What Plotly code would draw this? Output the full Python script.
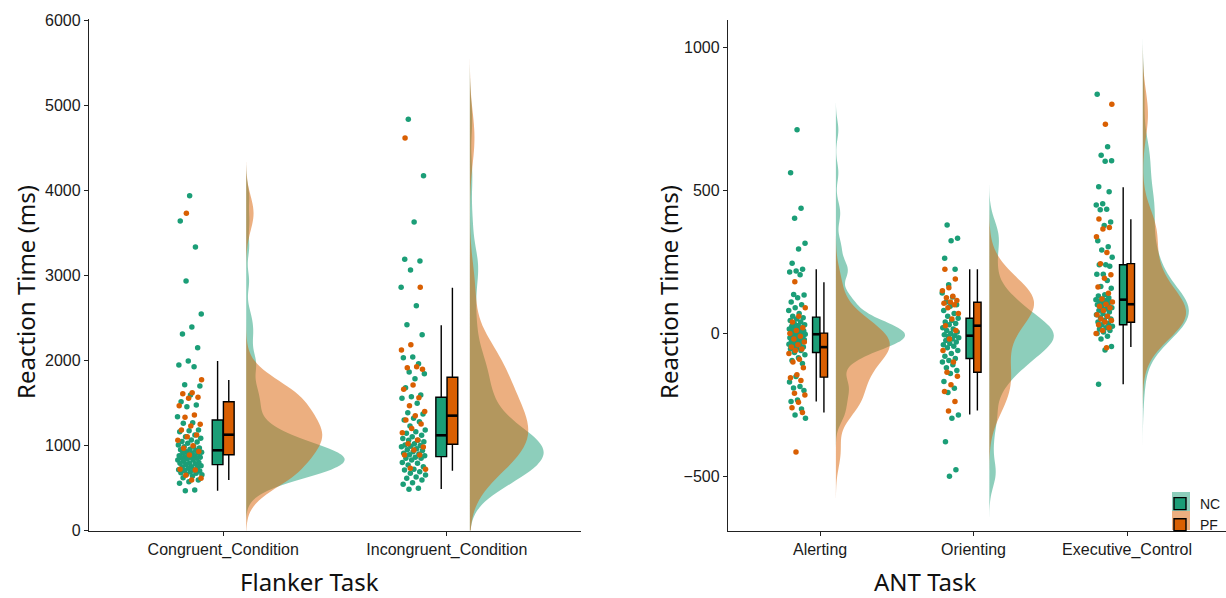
import numpy as np
import plotly.graph_objects as go

# ---------------- data ----------------
flanker_conditions = ["Congruent_Condition", "Incongruent_Condition"]
ant_conditions = ["Alerting", "Orienting", "Executive_Control"]

flanker_nc_congruent = [3935, 3638, 3332, 2932, 2545, 2392, 2310, 2149, 1993, 1945, 1925, 1714, 1699,
                        1593, 1514, 1475, 1455, 1338, 1267, 1260, 1181, 1173, 1160, 1122, 1102, 1083,
                        1063, 1045, 1040, 1025, 1005, 990, 985, 970, 955, 950, 943, 926, 920, 910, 910,
                        907, 895, 880, 880, 868, 860, 860, 855, 848, 840, 830, 829, 815, 800, 790, 790,
                        785, 775, 760, 750, 745, 740, 731, 715, 710, 705, 700, 691, 680, 672, 660, 655,
                        640, 620, 594, 574, 555, 476, 468]
flanker_pf_congruent = [3728, 1773, 1620, 1608, 1565, 1553, 1467, 1358, 1331, 1248, 1228, 1180, 1122,
                        1102, 1060, 997, 966, 930, 887, 719, 711, 650, 614, 594]
flanker_nc_incongruent = [4833, 4170, 3626, 3187, 3168, 3062, 2858, 2642, 2419, 2301, 2039, 2030, 1961,
                          1863, 1843, 1784, 1679, 1593, 1573, 1554, 1495, 1385, 1369, 1319, 1300, 1279,
                          1228, 1181, 1161, 1142, 1120, 1102, 1080, 1060, 1060, 1044, 1020, 1005, 1000,
                          990, 985, 960, 950, 940, 926, 907, 900, 890, 880, 860, 850, 848, 829, 800, 790,
                          770, 750, 720, 711, 690, 672, 652, 630, 614, 594, 560, 543, 496, 484]
flanker_pf_incongruent = [4613, 2858, 2184, 2121, 1925, 1913, 1895, 1710, 1660, 1561, 1467, 1400, 1349,
                          1300, 1252, 1200, 1150, 1063, 1020, 980, 946, 887, 887, 731, 719]

ant_nc_alerting = [712, 562, 438, 403, 315, 295, 245, 224, 218, 215, 205, 136, 134, 125, 110, 100, 90,
                   80, 70, 60, 55, 50, 45, 40, 35, 30, 28, 25, 20, 18, 15, 12, 10, 8, 5, 2, 0, -2, -3,
                   -5, -8, -10, -12, -15, -18, -20, -22, -25, -28, -30, -35, -38, -40, -45, -48, -50,
                   -55, -60, -67, -75, -85, -95, -105, -151, -170, -186, -191, -200, -233, -238, -264,
                   -285, -297]
ant_pf_alerting = [181, 90, 60, 40, 20, 10, 0, -10, -20, -30, -40, -48, -55, -60, -70, -90, -100, -120,
                   -145, -155, -165, -209, -215, -241, -260, -277, -415]
ant_nc_orienting = [379, 333, 324, 263, 224, 170, 141, 127, 110, 100, 95, 80, 70, 60, 53, 45, 40, 35,
                    30, 20, 15, 10, 5, 0, -5, -8, -10, -15, -20, -25, -30, -35, -40, -45, -50, -60, -70,
                    -80, -88, -95, -100, -110, -120, -130, -140, -168, -192, -207, -285, -297, -379,
                    -477, -500]
ant_pf_orienting = [224, 190, 160, 149, 130, 125, 115, 110, 105, 100, 90, 70, 50, 27, 10, -20, -60,
                    -100, -136, -150, -180, -203, -238, -271]
ant_nc_executive = [836, 653, 623, 604, 602, 513, 495, 453, 449, 434, 432, 390, 377, 324, 303, 292, 266,
                    240, 240, 235, 207, 207, 185, 164, 158, 135, 131, 125, 120, 118, 115, 112, 110, 105,
                    100, 98, 95, 90, 85, 80, 75, 70, 65, 60, 55, 50, 45, 40, 35, 30, 25, 20, 15, 10, 5,
                    0, -10, -20, -46, -58, -178]
ant_pf_executive = [801, 731, 400, 370, 365, 338, 283, 244, 205, 193, 162, 140, 120, 110, 102, 95, 90,
                    80, 65, 60, 50, 45, 40, 30, 20, 10, 0, -50]

# box statistics (per condition)
flanker_nc_q1 = [774, 868]
flanker_nc_median = [943, 1119]
flanker_nc_q3 = [1299, 1566]
flanker_nc_lower = [468, 488]
flanker_nc_upper = [1992, 2412]
flanker_pf_q1 = [891, 1013]
flanker_pf_median = [1126, 1350]
flanker_pf_q3 = [1514, 1801]
flanker_pf_lower = [594, 703]
flanker_pf_upper = [1769, 2854]

ant_nc_q1 = [-67, -88, 30]
ant_nc_median = [-3, -8, 118]
ant_nc_q3 = [57, 53, 240]
ant_nc_lower = [-238, -284, -178]
ant_nc_upper = [224, 224, 511]
ant_pf_q1 = [-153, -136, 39]
ant_pf_median = [-48, 27, 102]
ant_pf_q3 = [1, 109, 244]
ant_pf_lower = [-277, -270, -48]
ant_pf_upper = [179, 224, 399]

# ---------------- styling ----------------
NC_COLOR = "#1B9E77"
PF_COLOR = "#D95F02"
NC_FILL = "rgba(27,158,119,0.5)"
PF_FILL = "rgba(217,95,2,0.5)"
W, H = 1226, 598
TICK_FONT = dict(family="Liberation Sans, Arial, sans-serif", size=16, color="#1a1a1a")
TITLE_FONT_FAMILY = "Noto Sans, Open Sans, sans-serif"

VIOLIN_SHIFT = 0.103
POINT_SHIFT = -0.15
POINT_SPREAD = 0.055
BOX_SHIFT = 0.025
BOX_WIDTH = 0.048


def nrd0(v):
    v = np.asarray(v, float)
    sd = v.std(ddof=1)
    q75, q25 = np.percentile(v, [75, 25])
    return 0.9 * min(sd, (q75 - q25) / 1.34) * len(v) ** -0.2


def jitter(n, start):
    k = np.arange(n) + start
    u = (0.5 + k * 0.6180339887) % 1.0
    return 2 * u - 1


panels = [
    dict(xa="x", ya="y", cats=flanker_conditions,
         nc=[flanker_nc_congruent, flanker_nc_incongruent],
         pf=[flanker_pf_congruent, flanker_pf_incongruent],
         nc_box=(flanker_nc_q1, flanker_nc_median, flanker_nc_q3, flanker_nc_lower, flanker_nc_upper),
         pf_box=(flanker_pf_q1, flanker_pf_median, flanker_pf_q3, flanker_pf_lower, flanker_pf_upper),
         nc_w=[0.44, 0.33], pf_w=[0.34, 0.26], legend=False),
    dict(xa="x2", ya="y2", cats=ant_conditions,
         nc=[ant_nc_alerting, ant_nc_orienting, ant_nc_executive],
         pf=[ant_pf_alerting, ant_pf_orienting, ant_pf_executive],
         nc_box=(ant_nc_q1, ant_nc_median, ant_nc_q3, ant_nc_lower, ant_nc_upper),
         pf_box=(ant_pf_q1, ant_pf_median, ant_pf_q3, ant_pf_lower, ant_pf_upper),
         nc_w=[0.45, 0.42, 0.30], pf_w=[0.35, 0.29, 0.28], legend=True),
]

fig = go.Figure()

# violins
for p in panels:
    for key, fill, wkey in (("nc", NC_FILL, "nc_w"), ("pf", PF_FILL, "pf_w")):
        for i, vals in enumerate(p[key]):
            v = np.asarray(vals, float)
            bw = nrd0(v)
            pos = i + 1 + VIOLIN_SHIFT
            fig.add_trace(go.Violin(
                x=np.full(len(v), pos), y=v, xaxis=p["xa"], yaxis=p["ya"],
                side="positive", width=2 * p[wkey][i], bandwidth=bw,
                spanmode="manual", span=[v.min() - 3 * bw, v.max() + 3 * bw],
                fillcolor=fill, line=dict(width=0, color=fill), points=False,
                scalemode="width", scalegroup=f"{p['xa']}{key}{i}",
                showlegend=False, hoverinfo="skip"))

# jittered points
for p in panels:
    for key, color, start in (("nc", NC_COLOR, 0), ("pf", PF_COLOR, 37)):
        xs, ys = [], []
        for i, vals in enumerate(p[key]):
            v = np.asarray(vals, float)
            xs.extend(i + 1 + POINT_SHIFT + POINT_SPREAD * jitter(len(v), start + 11 * i))
            ys.extend(v)
        fig.add_trace(go.Scatter(x=xs, y=ys, mode="markers", xaxis=p["xa"], yaxis=p["ya"],
                                 marker=dict(size=5.5, color=color), showlegend=False,
                                 hoverinfo="skip"))

# boxes
for p in panels:
    n = len(p["cats"])
    for key, color, shift, name in (("nc", NC_COLOR, -BOX_SHIFT, "NC"), ("pf", PF_COLOR, BOX_SHIFT, "PF")):
        q1, med, q3, lo, hi = p[key + "_box"]
        xpos = [i + 1 + shift for i in range(n)]
        fig.add_trace(go.Box(
            x=xpos, q1=q1, median=med, q3=q3, lowerfence=lo, upperfence=hi,
            xaxis=p["xa"], yaxis=p["ya"], width=BOX_WIDTH, whiskerwidth=0,
            fillcolor=color, line=dict(color="black", width=1.4), boxpoints=False,
            name=name, legendgroup=name, showlegend=p["legend"], hoverinfo="skip"))
        mx, my = [], []
        for xp, m in zip(xpos, med):
            mx += [xp - BOX_WIDTH / 2, xp + BOX_WIDTH / 2, None]
            my += [m, m, None]
        fig.add_trace(go.Scatter(x=mx, y=my, mode="lines", xaxis=p["xa"], yaxis=p["ya"],
                                 line=dict(color="black", width=2.6), showlegend=False,
                                 hoverinfo="skip"))

axis_common = dict(showline=True, linecolor="#222", linewidth=1.4, ticks="outside", ticklen=4,
                   tickwidth=1.2, tickcolor="#222", showgrid=False, zeroline=False,
                   tickfont=TICK_FONT, automargin=False)

# light key backgrounds behind the legend glyphs (as in the reference legend)
legend_bg = [
    dict(type="rect", xref="paper", yref="paper", x0=1172 / W, x1=1190 / W,
         y0=1 - 511 / H, y1=1 - 492 / H, fillcolor=NC_FILL, line=dict(width=0), layer="above"),
    dict(type="rect", xref="paper", yref="paper", x0=1172 / W, x1=1190 / W,
         y0=1 - 530 / H, y1=1 - 511 / H, fillcolor=PF_FILL, line=dict(width=0), layer="above"),
]

fig.update_layout(
    width=W, height=H, margin=dict(l=0, r=0, t=0, b=0, autoexpand=False),
    paper_bgcolor="white", plot_bgcolor="white",
    violinmode="overlay", boxmode="overlay",
    xaxis=dict(domain=[89 / W, 581 / W], range=[0.4, 2.6], tickvals=[1, 2],
               ticktext=flanker_conditions, anchor="y", **axis_common),
    yaxis=dict(domain=[1 - 530.5 / H, 1 - 19 / H], range=[0, 6012], tickvals=[0, 1000, 2000, 3000, 4000, 5000, 6000],
               anchor="x", **axis_common),
    xaxis2=dict(domain=[728 / W, 1.0], range=[0.4, 3.645], tickvals=[1, 2, 3],
                ticktext=ant_conditions, anchor="y2", **axis_common),
    yaxis2=dict(domain=[1 - 530.7 / H, 1 - 20 / H], range=[-690, 1096], tickvals=[-500, 0, 500, 1000],
                anchor="x2", **axis_common),
    shapes=legend_bg,
    legend=dict(x=1160 / W, y=1 - 488 / H, xanchor="left", yanchor="top",
                bgcolor="rgba(0,0,0,0)", font=dict(family="Liberation Sans, Arial, sans-serif",
                                                    size=14, color="#1a1a1a"),
                tracegroupgap=0, traceorder="normal"),
    annotations=[
        dict(text="Reaction Time (ms)", x=25 / W, y=1 - 292 / H, xref="paper", yref="paper",
             textangle=-90, showarrow=False, xanchor="center", yanchor="middle",
             font=dict(family=TITLE_FONT_FAMILY, size=24, color="#111")),
        dict(text="Reaction Time (ms)", x=668 / W, y=1 - 292 / H, xref="paper", yref="paper",
             textangle=-90, showarrow=False, xanchor="center", yanchor="middle",
             font=dict(family=TITLE_FONT_FAMILY, size=24, color="#111")),
        dict(text="Flanker Task", x=309 / W, y=1 - 581 / H, xref="paper", yref="paper",
             showarrow=False, xanchor="center", yanchor="middle",
             font=dict(family=TITLE_FONT_FAMILY, size=24, color="#111")),
        dict(text="ANT Task", x=925 / W, y=1 - 581 / H, xref="paper", yref="paper",
             showarrow=False, xanchor="center", yanchor="middle",
             font=dict(family=TITLE_FONT_FAMILY, size=24, color="#111")),
    ],
)

fig.write_html("out.html")
